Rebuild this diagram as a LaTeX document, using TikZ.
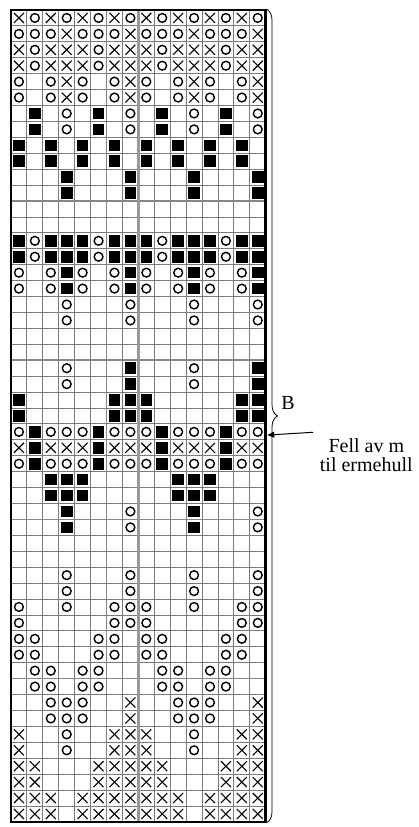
\documentclass[tikz,border=0pt]{standalone}
\usepackage{fontspec}
\setmainfont{Liberation Serif}
\usetikzlibrary{decorations.pathreplacing,arrows.meta}
\tikzset{
 gridthin/.style={draw=black!52, line width=0.9pt},
 gridmid/.style={draw=black!48, line width=1.7pt},
 gridcenter/.style={draw=black!40, line width=2.6pt},
 border/.style={draw=black, line width=2.8pt},
 xmark/.style={draw=black, line width=1.1pt},
 omark/.style={draw=black, line width=1.4pt},
 bmark/.style={fill=black},
 bracestyle/.style={draw=black, line width=0.8pt, decorate, decoration={brace, amplitude=11pt}},
 arrowstyle/.style={draw=black, line width=1pt, -{Triangle[length=7pt,width=6pt]}},
 lbl/.style={font=\fontsize{20}{17.3}\selectfont, inner sep=0pt, anchor=base},
}
\newcommand\symX{\draw[xmark] (p) ++(-5pt,-5pt) -- ++(10pt,10pt) (p) ++(-5pt,5pt) -- ++(10pt,-10pt);}
\newcommand\symO{\draw[omark] (p) circle[radius=4.4pt];}
\newcommand\symB{\fill[bmark] (p) ++(-5.8pt,-5.8pt) rectangle ++(11.6pt,11.6pt);}
\newcommand\symN{}
\begin{document}
\begin{tikzpicture}[x=1pt,y=1pt]
\useasboundingbox (0,0) rectangle (418,827);
\begin{scope}[shift={(11pt,817pt)}, x=15.92pt, y=-15.92pt]
 \foreach \i in {0,...,16} \draw[gridthin] (\i,0) -- (\i,51);
 \foreach \j in {0,...,51} \draw[gridthin] (0,\j) -- (16,\j);
 \foreach \j in {12,22,32,42} \draw[gridmid] (0,\j) -- (16,\j);
 \draw[gridmid] (6,0) -- (6,51);
 \draw[gridcenter] (8,0) -- (8,51);
 \foreach \row [count=\r] in {
  {X,O,X,O,X,O,X,O,X,O,X,O,X,O,X,O},
  {O,O,O,X,O,O,O,X,O,O,O,X,O,O,O,X},
  {X,O,X,X,X,O,X,X,X,O,X,X,X,O,X,X},
  {X,O,X,X,X,O,X,X,X,O,X,X,X,O,X,X},
  {O,N,O,X,O,N,O,X,O,N,O,X,O,N,O,X},
  {O,N,O,X,O,N,O,X,O,N,O,X,O,N,O,X},
  {N,B,N,O,N,B,N,O,N,B,N,O,N,B,N,O},
  {N,B,N,O,N,B,N,O,N,B,N,O,N,B,N,O},
  {B,N,B,N,B,N,B,N,B,N,B,N,B,N,B,N},
  {B,N,B,N,B,N,B,N,B,N,B,N,B,N,B,N},
  {N,N,N,B,N,N,N,B,N,N,N,B,N,N,N,B},
  {N,N,N,B,N,N,N,B,N,N,N,B,N,N,N,B},
  {N,N,N,N,N,N,N,N,N,N,N,N,N,N,N,N},
  {N,N,N,N,N,N,N,N,N,N,N,N,N,N,N,N},
  {B,O,B,B,B,O,B,B,B,O,B,B,B,O,B,B},
  {B,O,B,B,B,O,B,B,B,O,B,B,B,O,B,B},
  {O,N,O,B,O,N,O,B,O,N,O,B,O,N,O,B},
  {O,N,O,B,O,N,O,B,O,N,O,B,O,N,O,B},
  {N,N,N,O,N,N,N,O,N,N,N,O,N,N,N,O},
  {N,N,N,O,N,N,N,O,N,N,N,O,N,N,N,O},
  {N,N,N,N,N,N,N,N,N,N,N,N,N,N,N,N},
  {N,N,N,N,N,N,N,N,N,N,N,N,N,N,N,N},
  {N,N,N,O,N,N,N,B,N,N,N,O,N,N,N,B},
  {N,N,N,O,N,N,N,B,N,N,N,O,N,N,N,B},
  {B,N,N,N,N,N,B,B,B,N,N,N,N,N,B,B},
  {B,N,N,N,N,N,B,B,B,N,N,N,N,N,B,B},
  {O,B,O,O,O,B,O,O,O,B,O,O,O,B,O,O},
  {X,B,X,X,X,B,X,X,X,B,X,X,X,B,X,X},
  {O,B,O,O,O,B,O,O,O,B,O,O,O,B,O,O},
  {N,N,B,B,B,N,N,N,N,N,B,B,B,N,N,N},
  {N,N,B,B,B,N,N,N,N,N,B,B,B,N,N,N},
  {N,N,N,B,N,N,N,O,N,N,N,B,N,N,N,O},
  {N,N,N,B,N,N,N,O,N,N,N,B,N,N,N,O},
  {N,N,N,N,N,N,N,N,N,N,N,N,N,N,N,N},
  {N,N,N,N,N,N,N,N,N,N,N,N,N,N,N,N},
  {N,N,N,O,N,N,N,O,N,N,N,O,N,N,N,O},
  {N,N,N,O,N,N,N,O,N,N,N,O,N,N,N,O},
  {O,N,N,O,N,N,O,O,O,N,N,O,N,N,O,O},
  {O,N,N,N,N,N,O,O,O,N,N,N,N,N,O,O},
  {O,O,N,N,N,O,O,N,O,O,N,N,N,O,O,N},
  {O,O,N,N,N,O,O,N,O,O,N,N,N,O,O,N},
  {N,O,O,N,O,O,N,N,N,O,O,N,O,O,N,N},
  {N,O,O,N,O,O,N,N,N,O,O,N,O,O,N,N},
  {N,N,O,O,O,N,N,X,N,N,O,O,O,N,N,X},
  {N,N,O,O,O,N,N,X,N,N,O,O,O,N,N,X},
  {X,N,N,O,N,N,X,X,X,N,N,O,N,N,X,X},
  {X,N,N,O,N,N,X,X,X,N,N,O,N,N,X,X},
  {X,X,N,N,N,X,X,X,X,X,N,N,N,X,X,X},
  {X,X,N,N,N,X,X,X,X,X,N,N,N,X,X,X},
  {X,X,X,N,X,X,X,X,X,X,X,N,X,X,X,X},
  {X,X,X,N,X,X,X,X,X,X,X,N,X,X,X,X}}{
   \foreach \c [count=\k] in \row {
     \coordinate (p) at (\k-0.5,\r-0.5);
     \csname sym\c\endcsname
   }
 }
 \draw[border] (0,0) rectangle (16,51);
 \coordinate (bracetop) at (16.05,-0.05);
 \coordinate (bracebot) at (16.05,51.05);
 \coordinate (edge) at (16.1,26.7);
\end{scope}
\draw[bracestyle] (bracetop) -- (bracebot);
\node[lbl] (labB) at (288,417.7) {B};
\coordinate (atail) at (313,394.7);
\draw[arrowstyle] (atail) -- (edge);
\node[lbl] (fell) at (366.3,374.3) {\begin{tabular}[t]{@{}c@{}}Fell av m\\til ermehull\end{tabular}};
\end{tikzpicture}
\end{document}
